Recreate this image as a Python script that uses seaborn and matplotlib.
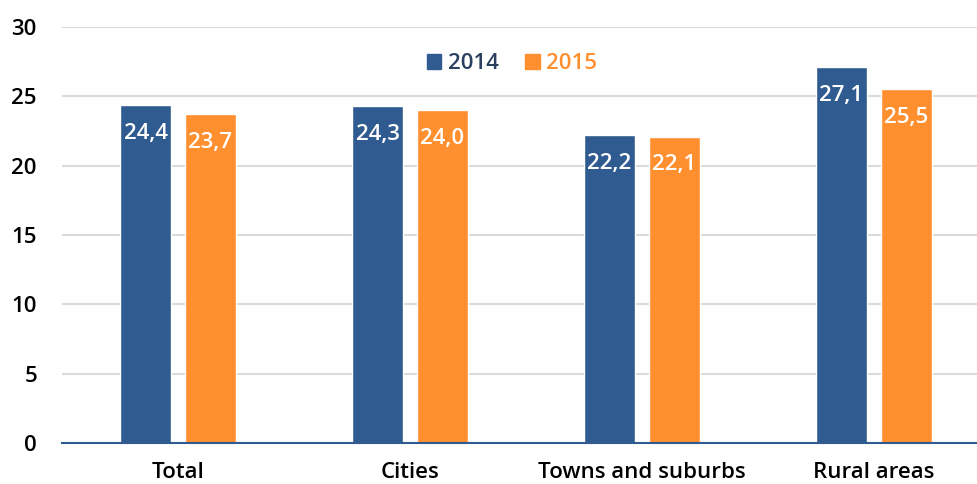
import matplotlib
matplotlib.use("Agg")
import matplotlib.pyplot as plt
import seaborn as sns
import pandas as pd
from matplotlib.patches import Patch

categories = ["Total", "Cities", "Towns and suburbs", "Rural areas"]
years = ["2014", "2015"]
values_2014 = [24.4, 24.3, 22.2, 27.1]
values_2015 = [23.7, 24.0, 22.1, 25.5]
y_ticks = [0, 5, 10, 15, 20, 25, 30]

BLUE = "#2F5B90"
ORANGE = "#FF8F2F"

df = pd.DataFrame({
    "category": categories * 2,
    "year": [years[0]] * len(categories) + [years[1]] * len(categories),
    "value": values_2014 + values_2015,
})

sns.set_theme(style="white")
plt.rcParams["font.family"] = ["Open Sans", "DejaVu Sans"]
W = "semibold"

fig = plt.figure(figsize=(9.78, 4.84), dpi=100)
ax = fig.add_axes([62 / 978, 41 / 484, 928 / 978, 416 / 484])

sns.barplot(data=df, x="category", y="value", hue="year", order=categories,
            hue_order=years, palette=[BLUE, ORANGE], width=0.56, gap=0.215,
            saturation=1, ax=ax, legend=False)

for cont, vals in zip(ax.containers, [values_2014, values_2015]):
    ax.bar_label(cont, labels=[f"{v:.1f}".replace(".", ",") for v in vals],
                 label_type="edge", padding=-28, color="white", fontsize=16,
                 fontweight=W)

ax.set_ylim(0, 30)
ax.set_yticks(y_ticks)
ax.set_xlim(-0.5, len(categories) - 0.5)
ax.yaxis.grid(True, color="#DADADA", linewidth=1.5)
ax.set_axisbelow(True)
for s in ["top", "right", "left"]:
    ax.spines[s].set_visible(False)
ax.spines["bottom"].set_color(BLUE)
ax.spines["bottom"].set_linewidth(1.5)
ax.set_xlabel("")
ax.set_ylabel("")
ax.tick_params(axis="both", length=0, labelsize=16, colors="black")
ax.tick_params(axis="x", pad=14)
ax.tick_params(axis="y", pad=18)
for t in ax.get_xticklabels() + ax.get_yticklabels():
    t.set_fontweight(W)

handles = [Patch(color=BLUE), Patch(color=ORANGE)]
ax.legend(handles, years, loc="center", bbox_to_anchor=(0.485, 0.912), ncol=2,
          frameon=False, handlelength=0.65, handleheight=0.65,
          handletextpad=0.3, columnspacing=1.2, labelcolor=["#2B3F60", ORANGE],
          prop={"weight": W, "size": 16})

fig.savefig("out.png", dpi=100)
